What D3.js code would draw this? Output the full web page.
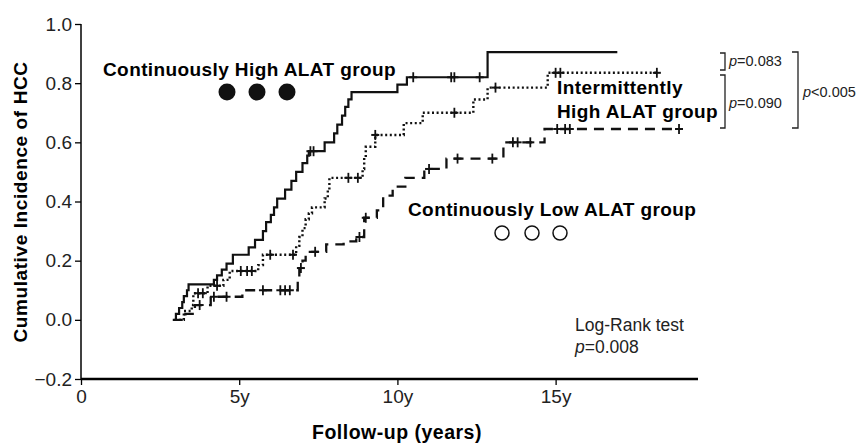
<!DOCTYPE html>
<html>
<head>
<meta charset="utf-8">
<script src="https://cdn.jsdelivr.net/npm/d3@7"></script>
<style>
  body { margin: 0; background: #fff; }
  svg { font-family: "Liberation Sans", Arial, sans-serif; }
</style>
</head>
<body>
<div id="chart"></div>
<script>
// step curves: time (years) where the value changes, and the new value
var highTimes   = [2.95, 3.0, 3.1, 3.2, 3.25, 3.35, 3.4, 4.2, 4.3, 4.45, 4.6, 4.8, 5.3, 5.5, 5.75, 5.85, 6.0, 6.1, 6.2, 6.45, 6.65, 6.8, 7.0, 7.15, 7.2, 7.7, 8.0, 8.1, 8.25, 8.35, 8.45, 8.55, 10.0, 10.3, 12.85, 16.95];
var highValues  = [0.0, 0.02, 0.04, 0.06, 0.08, 0.10, 0.12, 0.135, 0.15, 0.17, 0.19, 0.22, 0.245, 0.27, 0.30, 0.33, 0.355, 0.38, 0.41, 0.44, 0.47, 0.50, 0.53, 0.555, 0.57, 0.60, 0.63, 0.66, 0.69, 0.72, 0.745, 0.77, 0.795, 0.82, 0.905, 0.905];
var highCensor  = [7.25, 7.35, 10.5, 11.7, 11.8, 12.6];

var interTimes  = [3.1, 3.25, 3.5, 3.55, 4.0, 4.5, 4.7, 5.6, 5.75, 6.8, 6.9, 7.0, 7.1, 7.2, 7.3, 7.7, 7.8, 7.85, 8.9, 8.95, 9.0, 9.3, 10.2, 10.8, 12.4, 12.85, 14.75, 18.2];
var interValues = [0.0, 0.03, 0.05, 0.09, 0.115, 0.135, 0.165, 0.185, 0.22, 0.25, 0.28, 0.31, 0.34, 0.36, 0.38, 0.41, 0.44, 0.48, 0.51, 0.55, 0.585, 0.625, 0.665, 0.70, 0.745, 0.785, 0.835, 0.835];
var interCensor = [3.7, 3.85, 4.3, 5.05, 5.25, 5.4, 5.98, 6.7, 8.45, 8.75, 9.3, 11.8, 13.1, 15.0, 15.15, 18.2];

var lowTimes    = [2.9, 3.3, 3.6, 4.1, 5.1, 6.85, 6.9, 7.0, 7.1, 7.75, 8.3, 8.7, 8.95, 9.35, 9.55, 9.85, 10.25, 10.85, 11.55, 13.35, 14.65, 18.9];
var lowValues   = [0.0, 0.02, 0.05, 0.078, 0.10, 0.14, 0.175, 0.20, 0.23, 0.255, 0.265, 0.28, 0.345, 0.37, 0.42, 0.45, 0.48, 0.51, 0.545, 0.60, 0.645, 0.645];
var lowCensor   = [3.75, 4.2, 4.6, 5.75, 6.3, 6.45, 6.6, 6.95, 7.4, 8.8, 9.0, 11.0, 11.9, 13.0, 13.65, 13.8, 14.2, 15.05, 15.3, 15.45, 18.9];

var yTicks = [-0.2, 0.0, 0.2, 0.4, 0.6, 0.8, 1.0];
var xTicks = [0, 5, 10, 15];
var xTickLabels = ["0", "5y", "10y", "15y"];

var width = 859, height = 443;
var svg = d3.select("#chart").append("svg")
    .attr("width", width).attr("height", height);

var x = d3.scaleLinear().domain([0, 19.5]).range([81, 698]);
var y = d3.scaleLinear().domain([-0.2, 1.0]).range([379, 24]);

// axes
var yAxis = svg.append("g")
    .attr("transform", "translate(" + x(0) + ",0)")
    .call(d3.axisLeft(y).tickValues(yTicks).tickFormat(d3.format(".1f")).tickSize(6).tickPadding(3));
yAxis.select(".domain").attr("stroke-width", 1.5).attr("d", "M0," + y(1.0) + "V" + y(-0.2));
yAxis.selectAll(".tick line").attr("stroke-width", 1.3);
yAxis.selectAll("text").attr("font-size", 19).attr("fill", "#222");

var xAxis = svg.append("g")
    .attr("transform", "translate(0," + y(-0.2) + ")")
    .call(d3.axisBottom(x).tickValues(xTicks).tickFormat(function (d, i) { return xTickLabels[i]; }).tickSize(6).tickPadding(5));
xAxis.select(".domain").attr("stroke-width", 2.4).attr("d", "M" + x(0) + ",0H" + x(19.5));
xAxis.selectAll(".tick line").attr("stroke-width", 1.3);
xAxis.selectAll("text").attr("font-size", 19).attr("fill", "#222");

svg.append("text")
    .attr("x", 397).attr("y", 439)
    .attr("text-anchor", "middle")
    .attr("font-size", 19.5).attr("font-weight", "bold").attr("letter-spacing", 0.5)
    .text("Follow-up (years)");

svg.append("text")
    .attr("transform", "translate(27,202) rotate(-90)")
    .attr("text-anchor", "middle")
    .attr("font-size", 19).attr("font-weight", "bold").attr("letter-spacing", 0.6)
    .text("Cumulative Incidence of HCC");

// curves
function toPoints(times, values) {
    return times.map(function (t, i) { return [t, values[i]]; });
}
function valueAt(times, values, t) {
    var v = values[0];
    for (var i = 0; i < times.length; i++) {
        if (times[i] <= t + 1e-9) v = values[i];
    }
    return v;
}

var line = d3.line()
    .x(function (d) { return x(d[0]); })
    .y(function (d) { return y(d[1]); })
    .curve(d3.curveStepAfter);

var groups = [
    { times: highTimes, values: highValues, censor: highCensor, dash: null, width: 2.2 },
    { times: interTimes, values: interValues, censor: interCensor, dash: "2,2.6", width: 2.4 },
    { times: lowTimes, values: lowValues, censor: lowCensor, dash: "10,7", width: 2.3 }
];

groups.forEach(function (g) {
    svg.append("path")
        .datum(toPoints(g.times, g.values))
        .attr("d", line)
        .attr("fill", "none")
        .attr("stroke", "#111")
        .attr("stroke-width", g.width)
        .attr("stroke-dasharray", g.dash);

    svg.append("g").selectAll("line")
        .data(g.censor)
        .enter().append("line")
        .attr("x1", function (d) { return x(d); })
        .attr("x2", function (d) { return x(d); })
        .attr("y1", function (d) { return y(valueAt(g.times, g.values, d)) - 5; })
        .attr("y2", function (d) { return y(valueAt(g.times, g.values, d)) + 5; })
        .attr("stroke", "#111")
        .attr("stroke-width", 1.8);

    // short horizontal piece so the cross shows even in gaps of the dash
    svg.append("g").selectAll("line")
        .data(g.censor)
        .enter().append("line")
        .attr("x1", function (d) { return x(d) - 4; })
        .attr("x2", function (d) { return x(d) + 4; })
        .attr("y1", function (d) { return y(valueAt(g.times, g.values, d)); })
        .attr("y2", function (d) { return y(valueAt(g.times, g.values, d)); })
        .attr("stroke", "#111")
        .attr("stroke-width", 2);
});

// group labels
svg.append("text")
    .attr("x", 103).attr("y", 76)
    .attr("font-size", 19).attr("font-weight", "bold").attr("letter-spacing", 0.4)
    .text("Continuously High ALAT group");
svg.append("g").selectAll("circle")
    .data([227, 257, 287])
    .enter().append("circle")
    .attr("cx", function (d) { return d; }).attr("cy", 92).attr("r", 8.5)
    .attr("fill", "#111");

var inter = svg.append("text")
    .attr("font-size", 19).attr("font-weight", "bold").attr("letter-spacing", 0.4);
inter.append("tspan").attr("x", 557).attr("y", 94).text("Intermittently");
inter.append("tspan").attr("x", 557).attr("y", 118).text("High ALAT group");

svg.append("text")
    .attr("x", 408).attr("y", 216)
    .attr("font-size", 19).attr("font-weight", "bold").attr("letter-spacing", 0.4)
    .text("Continuously Low ALAT group");
svg.append("g").selectAll("circle")
    .data([502, 532, 560])
    .enter().append("circle")
    .attr("cx", function (d) { return d; }).attr("cy", 233).attr("r", 7)
    .attr("fill", "none").attr("stroke", "#111").attr("stroke-width", 1.5);

// p-value brackets
var br = svg.append("g").attr("stroke", "#222").attr("stroke-width", 1.3).attr("fill", "none");
br.append("path").attr("d", "M720,53H725V70H720");
br.append("path").attr("d", "M720,75H725V128H720");
br.append("path").attr("d", "M792,52H798V128H792");

function pText(px, py, rest, size) {
    var t = svg.append("text").attr("x", px).attr("y", py).attr("font-size", size).attr("fill", "#222");
    t.append("tspan").attr("font-style", "italic").text("p");
    t.append("tspan").text(rest);
}
pText(729, 66, "=0.083", 14.5);
pText(729, 108, "=0.090", 14.5);
pText(803, 97, "<0.005", 14.5);

svg.append("text")
    .attr("x", 575).attr("y", 331)
    .attr("font-size", 17.5).attr("fill", "#222")
    .text("Log-Rank test");
pText(575, 353, "=0.008", 17.5);
</script>
</body>
</html>
